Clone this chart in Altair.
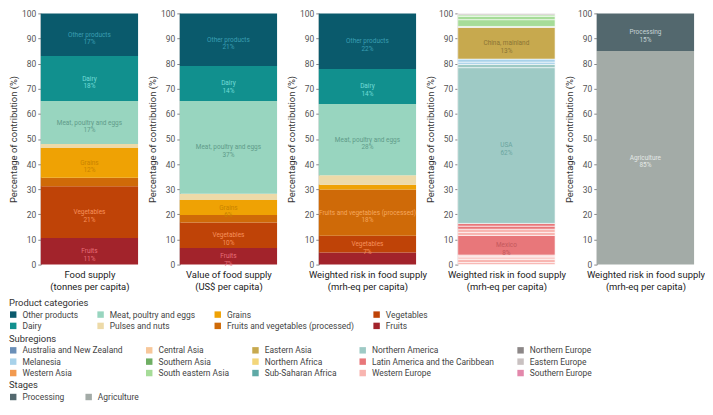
import altair as alt
import pandas as pd

# ---------------- data ----------------
# product categories, stacked bottom -> top
cat_names = ["Fruits", "Vegetables", "Fruits and vegetables (processed)", "Grains",
             "Pulses and nuts", "Meat, poultry and eggs", "Dairy", "Other products"]
food_supply = [10.6, 20.6, 3.4, 11.8, 1.6, 17.1, 17.9, 17.0]
food_value = [6.6, 10.2, 2.9, 6.0, 2.5, 36.9, 14.0, 20.9]
food_risk = [4.8, 6.7, 18.4, 1.9, 3.8, 28.3, 14.0, 22.1]
supply_labeled = [True, True, False, True, False, True, True, True]
value_labeled = [True, True, False, True, False, True, True, True]
risk_labeled = [False, True, True, False, False, True, True, True]
cat_text_colors = ["#e86f7a", "#f7915c", "#f6a75e", "#c98300", "#c9b37e", "#5f9b89", "#72dcd8", "#3a9fb3"]

# legend order (row-major) and colours
cat_legend = ["Other products", "Meat, poultry and eggs", "Grains", "Vegetables",
              "Dairy", "Pulses and nuts", "Fruits and vegetables (processed)", "Fruits"]
cat_colors = ["#0a5a6c", "#98d5bf", "#efa204", "#bf4307",
              "#11908e", "#eddaa8", "#cf6a08", "#a2232b"]

# countries (weighted risk by origin), stacked bottom -> top
cty_names = ["France", "Netherlands", "Belgium", "Germany", "Switzerland", "Mexico",
             "Austria", "Luxembourg", "Peru", "Chile", "USA", "Canada",
             "Papua New Guinea", "Fiji", "China, mainland", "Poland", "Viet Nam",
             "Thailand", "Indonesia", "Ukraine"]
cty_values = [0.8, 1.2, 0.7, 0.6, 0.5, 7.8, 1.2, 1.3, 1.2, 1.1, 62.0, 1.3,
              0.9, 1.2, 12.6, 0.4, 2.7, 1.3, 0.6, 0.6]
cty_regions = ["Western Europe", "Western Europe", "Western Europe", "Western Europe",
               "Western Europe", "Latin America and the Caribbean", "Western Europe",
               "Western Europe", "Latin America and the Caribbean",
               "Latin America and the Caribbean", "Northern America", "Northern America",
               "Melanesia", "Melanesia", "Eastern Asia", "Eastern Europe",
               "South eastern Asia", "South eastern Asia", "South eastern Asia",
               "Eastern Europe"]
cty_labeled = [False, False, False, False, False, True, False, False, False, False,
               True, False, False, False, True, False, False, False, False, False]
cty_text_colors = ["#c4585c" if n == "Mexico" else "#6aa59f" if n == "USA" else "#8b7535"
                   for n in cty_names]

sub_legend = ["Australia and New Zealand", "Central Asia", "Eastern Asia", "Northern America",
              "Northern Europe", "Melanesia", "Southern Asia", "Northern Africa",
              "Latin America and the Caribbean", "Eastern Europe", "Western Asia",
              "South eastern Asia", "Sub-Saharan Africa", "Western Europe", "Southern Europe"]
sub_colors = ["#6a8fb8", "#f7c79a", "#c7a94e", "#9ecac5", "#8c8787",
              "#a8d2ea", "#6fae63", "#f3d67a", "#e8777a", "#c9c1c1",
              "#f29a50", "#a6dc98", "#5fa9a6", "#f8b5b0", "#e388ab"]

# stages, stacked bottom -> top
stage_names = ["Agriculture", "Processing"]
stage_values = [85.0, 15.0]
stage_labeled = [True, True]
stage_text_colors = ["#e4e9e6", "#c6d3d6"]
stage_legend = ["Processing", "Agriculture"]
stage_colors = ["#53686e", "#a3aba7"]

y_ticks = [0, 10, 20, 30, 40, 50, 60, 70, 80, 90, 100]

titles = [["Food supply", "(tonnes per capita)"],
          ["Value of food supply", "(US$ per capita)"],
          ["Weighted risk in food supply", "(mrh-eq per capita)"],
          ["Weighted risk in food supply", "(mrh-eq per capita)"],
          ["Weighted risk in food supply", "(mrh-eq per capita)"]]


def make_df(names, values, groups, labeled, tcolors, panel):
    rows = []
    for i, (n, v, g, l, tc) in enumerate(zip(names, values, groups, labeled, tcolors)):
        lab = f"{n}\n{int(v + 0.5)}%" if l else ""
        rows.append(dict(idx=i, name=n, value=v, group=g, label=lab, tcolor=tc, panel=panel))
    return pd.DataFrame(rows)


df1 = make_df(cat_names, food_supply, cat_names, supply_labeled, cat_text_colors, "p1")
df2 = make_df(cat_names, food_value, cat_names, value_labeled, cat_text_colors, "p2")
df3 = make_df(cat_names, food_risk, cat_names, risk_labeled, cat_text_colors, "p3")
df4 = make_df(cty_names, cty_values, cty_regions, cty_labeled, cty_text_colors, "p4")
df5 = make_df(stage_names, stage_values, stage_names, stage_labeled, stage_text_colors, "p5")

# ---------------- layout ----------------
W, H, SP = 98, 253, 42
STEP = W + SP
LX = -32
DY = 3


def legend(title, cols, x, y, colpad):
    return alt.Legend(title=title, orient="none", legendX=x, legendY=y, columns=cols,
                      direction="horizontal", symbolType="square", symbolSize=42,
                      symbolStrokeWidth=0, labelFontSize=8.5, labelColor="#444",
                      titleFontSize=9.5, titleFontWeight="normal", titleColor="#333",
                      titlePadding=3, rowPadding=2.5, columnPadding=colpad,
                      labelOffset=5, padding=0, gridAlign="each", labelLimit=400)


Y_AXIS = alt.Axis(title="Percentage of contribution (%)", values=y_ticks,
                  tickCount=11, labelOverlap=False,
                  grid=False, tickSize=3, labelPadding=2, labelFontSize=8.5,
                  labelColor="#555", tickColor="#888", domainColor="#888",
                  titleFontSize=9.5, titleFontWeight="normal", titleColor="#333",
                  titlePadding=3)
Y_SCALE = alt.Scale(domain=[0, 100], nice=False)


def panel(df, title, domain, rng, leg, stroke_w=0):
    base = alt.Chart(df).transform_stack(
        stack="value", as_=["y0", "y1"], groupby=[],
        sort=[alt.SortField("idx", order="ascending")]
    ).transform_calculate(mid="(datum.y0 + datum.y1) / 2")
    x = alt.X("panel:N", scale=alt.Scale(paddingInner=0, paddingOuter=0),
              axis=alt.Axis(title=title, labels=False, ticks=False, domain=False,
                            titlePadding=5, titleFontSize=9.5, titleLineHeight=12,
                            titleFontWeight="normal", titleColor="#222"))
    bar_kw = dict(stroke="white", strokeWidth=stroke_w) if stroke_w else dict(strokeWidth=0)
    bars = base.mark_bar(**bar_kw).encode(
        x=x, y=alt.Y("y0:Q", scale=Y_SCALE, axis=Y_AXIS), y2="y1:Q",
        color=alt.Color("group:N", scale=alt.Scale(domain=domain, range=rng), legend=leg),
    )
    text = base.transform_filter("datum.label != ''").mark_text(
        fontSize=6.5, lineBreak="\n", lineHeight=7.5, baseline="middle", align="center"
    ).encode(
        x=x, y=alt.Y("mid:Q", scale=Y_SCALE, axis=Y_AXIS), text="label:N",
        fill=alt.Fill("tcolor:N", scale=None),
    )
    return alt.layer(bars, text).properties(width=W, height=H)


p1 = panel(df1, titles[0], cat_legend, cat_colors,
           legend("Product categories", 4, LX, 283.5 + DY, 18))
p2 = panel(df2, titles[1], cat_legend, cat_colors, None)
p3 = panel(df3, titles[2], cat_legend, cat_colors, None)
p4 = panel(df4, titles[3], sub_legend, sub_colors,
           legend("Subregions", 5, LX - 3 * STEP, 319.5 + DY, 22), stroke_w=0.6)
p5 = panel(df5, titles[4], stage_legend, stage_colors,
           legend("Stages", 2, LX - 4 * STEP, 366.5 + DY, 20))

chart = alt.hconcat(p1, p2, p3, p4, p5, spacing=SP, bounds="flush").resolve_scale(
    color="independent"
).configure(
    font="Roboto", padding={"left": 0, "right": 0, "top": 0, "bottom": 0}
).configure_view(stroke=None)

chart.save("out.html", embed_options={"renderer": "svg", "actions": False})
